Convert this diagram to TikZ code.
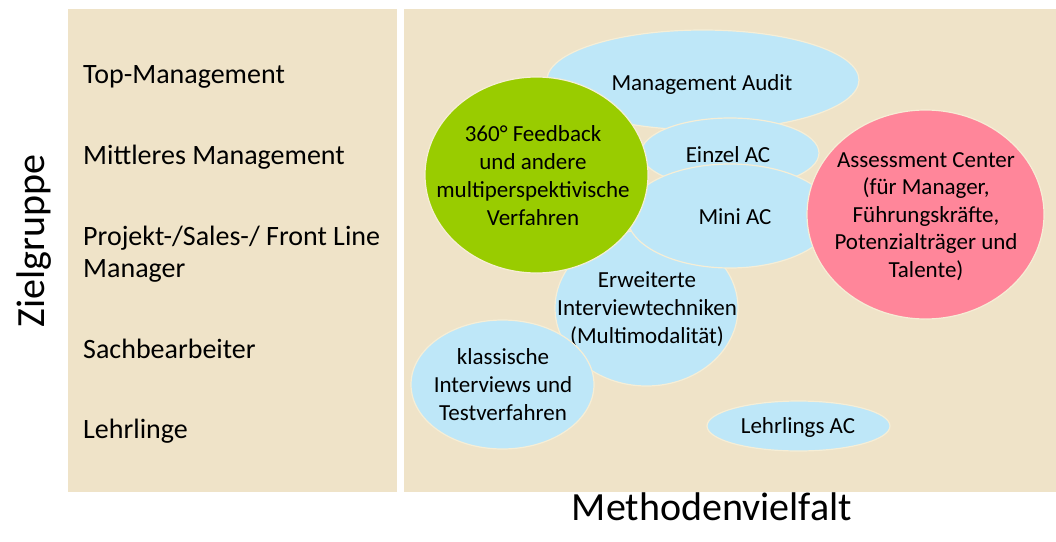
\documentclass[tikz,border=0pt]{standalone}
\usepackage{fontspec}
\setmainfont{Carlito}
\usetikzlibrary{shapes.geometric}

\definecolor{panelbg}{RGB}{239,227,200}
\definecolor{rimcol}{RGB}{246,238,214}
\definecolor{methblue}{RGB}{190,231,248}
\definecolor{methgreen}{RGB}{153,204,0}
\definecolor{methpink}{RGB}{255,134,154}

\tikzset{
  panel/.style={fill=panelbg, draw=none},
  grouplabel/.style={anchor=base west, inner sep=0pt, align=left,
    font=\fontsize{28}{32}\selectfont},
  axislabel/.style={anchor=base, inner sep=0pt,
    font=\fontsize{40}{46}\selectfont},
  method/.style={ellipse, inner sep=0pt, draw=rimcol, line width=1.2pt},
  bluemethod/.style={method, fill=methblue},
  methodtext/.style={anchor=base, inner sep=0pt, align=center,
    font=\fontsize{23}{28}\selectfont},
}

\begin{document}
\begin{tikzpicture}[x=1pt, y=-1pt]
  \useasboundingbox (0,0) rectangle (1056,541);

  % two background panels
  \path[panel] (68,9) rectangle (397,492);
  \path[panel] (404,9) rectangle (1056,492);

  % target groups (base = baseline of the last line)
  \node[grouplabel] (top)  at (83,83)  {Top-Management};
  \node[grouplabel] (mid)  at (83,164) {Mittleres Management};
  \node[grouplabel] (proj) at (83,277) {Projekt-/Sales-/ Front Line\\Manager};
  \node[grouplabel] (sach) at (83,358) {Sachbearbeiter};
  \node[grouplabel] (lehr) at (83,438) {Lehrlinge};

  % axis titles
  \node[axislabel, rotate=90] (yaxis) at (44,241) {Zielgruppe};
  \node[axislabel] (xaxis) at (712,520) {Methodenvielfalt};

  % methods, back to front
  \node[bluemethod, minimum width=312pt, minimum height=100pt] (audit) at (703,80) {};
  \node[methodtext] (audit-t) at (702,90) {Management Audit};

  \node[bluemethod, minimum width=178pt, minimum height=70pt] (einzel) at (730,153) {};
  \node[methodtext] (einzel-t) at (728,162) {Einzel AC};

  \node[bluemethod, minimum width=183pt, minimum height=156pt] (erw) at (646.5,308) {};
  \node[methodtext] (erw-t) at (647,343) {Erweiterte\\Interviewtechniken\\(Multimodalität)};

  \node[bluemethod, minimum width=206pt, minimum height=104pt] (mini) at (730,216) {};
  \node[methodtext] (mini-t) at (735,224) {Mini AC};

  \node[bluemethod, minimum width=183pt, minimum height=129pt] (klass) at (502.5,384.5) {};
  \node[methodtext] (klass-t) at (503,420) {klassische\\Interviews und\\Testverfahren};

  \node[bluemethod, minimum width=183pt, minimum height=50pt] (lac) at (798.5,426) {};
  \node[methodtext] (lac-t) at (798,433) {Lehrlings AC};

  \node[method, fill=methgreen, minimum width=223pt, minimum height=196pt] (fb) at (536.5,175) {};
  \node[methodtext] (fb-t) at (533,225) {360° Feedback\\und andere\\multiperspektivische\\Verfahren};

  \node[method, fill=methpink, minimum width=237pt, minimum height=209pt] (ac) at (925.5,214.5) {};
  \node[methodtext, font=\fontsize{23}{27.5}\selectfont] (ac-t) at (926,277)
    {Assessment Center\\(für Manager,\\Führungskräfte,\\Potenzialträger und\\Talente)};
\end{tikzpicture}
\end{document}
